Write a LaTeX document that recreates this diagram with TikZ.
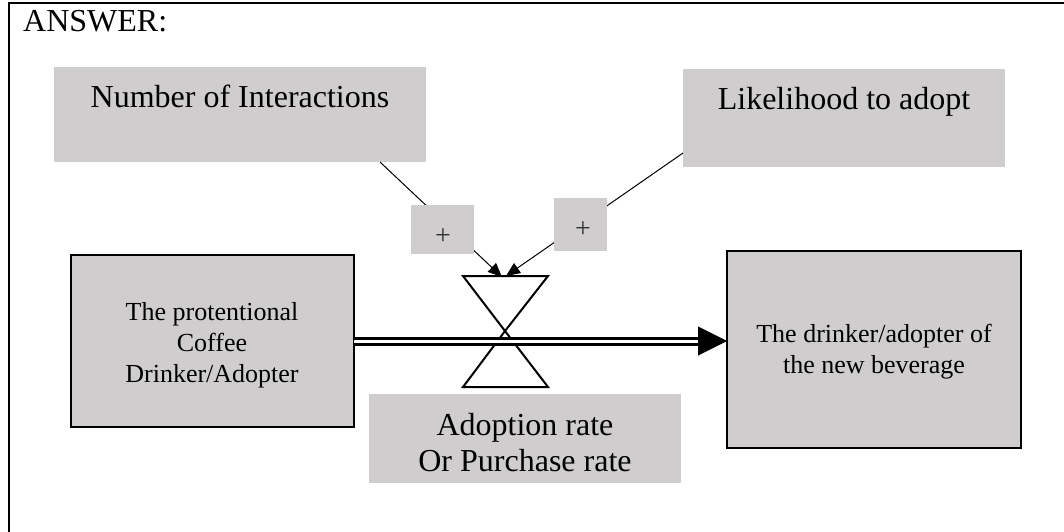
\documentclass[tikz,border=0pt]{standalone}
\usepackage{fontspec}
\setmainfont{Liberation Serif}
\usetikzlibrary{arrows.meta,calc}
\definecolor{boxgray}{RGB}{207,205,206}
\begin{document}
\begin{tikzpicture}[x=1pt,y=-1pt,
  gbox/.style={fill=boxgray, inner sep=0pt, outer sep=0pt, anchor=north west},
  stock/.style={fill=boxgray, draw=black, line width=2pt, inner sep=0pt, outer sep=0pt,
                anchor=north west},
  stocktxt/.style={align=center, font=\fontsize{26}{31}\selectfont, inner sep=0pt, anchor=base},
  big/.style={font=\fontsize{32}{36}\selectfont, inner sep=0pt},
  plustxt/.style={font=\fontsize{28}{30}\selectfont, inner sep=0pt, text=black!80},
  info/.style={line width=1pt, -{Triangle[length=14pt,width=12pt]}},
  valve/.style={draw=black, fill=white, line width=2pt, line join=miter},
  pipe/.style={line width=3pt, double=white, double distance=3pt},
  frame/.style={line width=2pt}
  ]
\useasboundingbox (0,0) rectangle (1064,532);
\draw[frame] (9,532) -- (9,3) -- (1064,3);
\node[big, anchor=base west] (ans) at (23,32) {ANSWER:};

% auxiliary boxes
\node[gbox, minimum width=372pt, minimum height=95pt] (num) at (54,67) {};
\node[big, anchor=base] (numtxt) at (240,107) {Number of Interactions};
\node[gbox, minimum width=322pt, minimum height=98pt] (lik) at (683,69) {};
\node[big, anchor=base] (liktxt) at (844,110) {Likelihood to adopt};

% information links
\coordinate (s1) at (380,162);
\coordinate (t1) at (502,277);
\coordinate (s2) at (683,153);
\coordinate (t2) at (506,276);
\draw[info] (s1) -- (t1);
\draw[info] (s2) -- (t2);

% polarity boxes
\node[gbox, minimum width=63pt, minimum height=49pt] (p1) at (411,205) {};
\node[plustxt] (p1t) at (443,237) {+};
\node[gbox, minimum width=53pt, minimum height=53pt] (p2) at (554,198) {};
\node[plustxt] (p2t) at (583,230) {+};

% stocks
\node[stock, minimum width=283pt, minimum height=172pt] (lbox) at (71,255) {};
\node[stocktxt] (ltxt) at (212,382) {The protentional\\Coffee\\Drinker/Adopter};
\node[stock, minimum width=294pt, minimum height=197pt] (rbox) at (727,251) {};
\node[stocktxt] (rtxt) at (874,373) {The drinker/adopter of\\the new beverage};

% valve
\draw[valve] (463,276) -- (548,276) -- (505,331) -- cycle;
\draw[valve] (505,331) -- (463,387) -- (548,387) -- cycle;

% flow pipe
\coordinate (pend) at (rbox.west |- lbox.east);
\draw[pipe] (lbox.east) -- ($(pend)+(-29,0)$);
\draw[line width=1pt, -{Triangle[length=29pt,width=29pt]}] ($(pend)+(-29,0)$) -- (pend);

% rate label
\node[gbox, minimum width=312pt, minimum height=89pt] (rate) at (369,394) {};
\node[big, align=center, anchor=base] (ratetxt) at (525,471) {Adoption rate\\Or Purchase rate};
\end{tikzpicture}
\end{document}
